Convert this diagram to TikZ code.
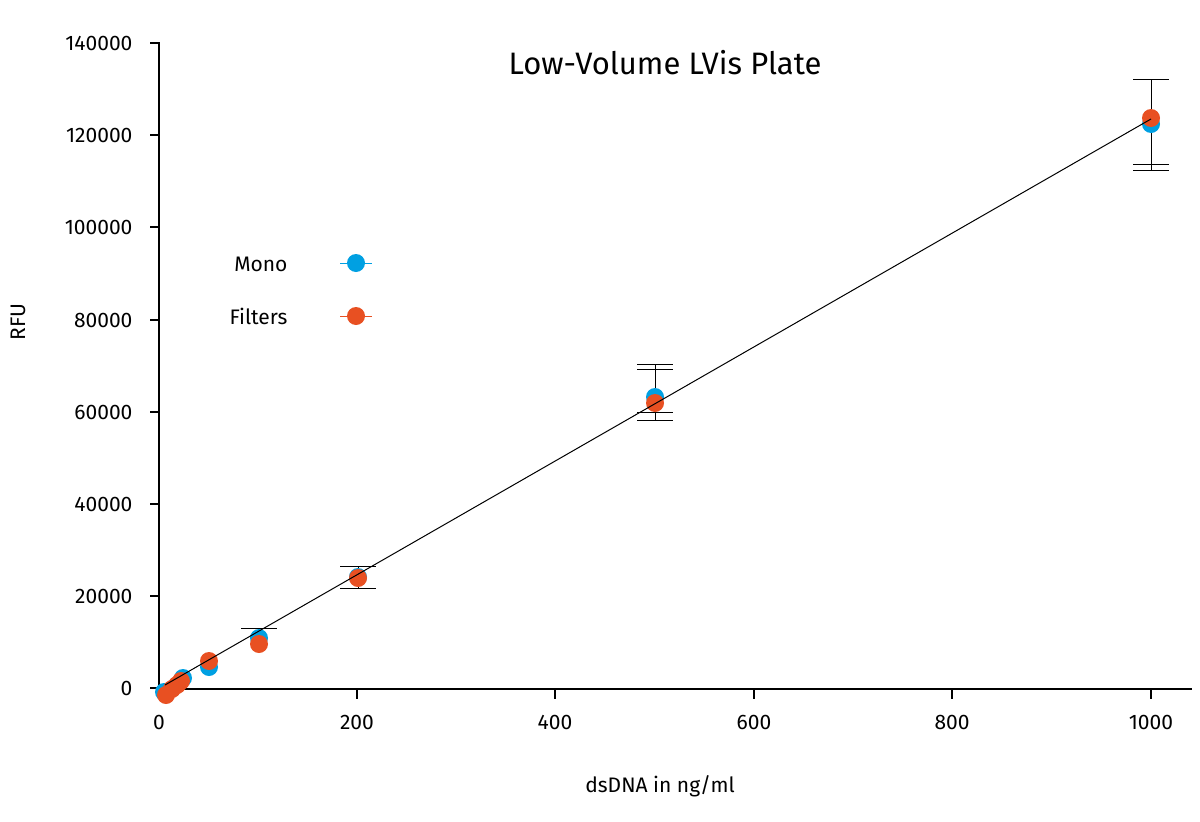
\documentclass[tikz,border=0pt]{standalone}
\usepackage{fontspec}
\setmainfont{Fira Sans}
\definecolor{mblue}{RGB}{0,160,226}
\definecolor{forange}{RGB}{232,80,34}
\begin{document}
\begin{tikzpicture}[x=1pt,y=-1pt,
  ax/.style={line width=1.6pt},
  bar/.style={line width=0.9pt},
  bdot/.style={circle,fill=mblue,inner sep=0pt,minimum size=18pt},
  odot/.style={circle,fill=forange,inner sep=0pt,minimum size=18pt},
  lbl/.style={font=\fontsize{21}{24}\selectfont}]
\useasboundingbox (0,0) rectangle (1200,822);
% axes
\draw[ax] (159,42) -- (159,689) -- (1192,689);
\foreach \v/\py in {0/688,20000/596,40000/504,60000/412,80000/320,100000/227,120000/135,140000/43}{
  \draw[ax] (150,\py) -- (159,\py);
  \node[lbl,anchor=east] (yl\v) at (136,\py) {\v};}
\foreach \v/\px in {0/159,200/357,400/555,600/754,800/952,1000/1151}{
  \draw[ax] (\px,689) -- (\px,699);
  \node[lbl,anchor=north] (xl\v) at (\px,712) {\v};}
\node[lbl] (xt) at (660,786) {dsDNA in ng/ml};
\node[lbl,rotate=90] (yt) at (18,322) {RFU};
\node[font=\fontsize{31}{36}\selectfont] (title) at (665,63) {Low-Volume LVis Plate};
% error bars
\draw[bar] (259,628) -- (259,642) (241,628) -- (277,628);
\draw[bar] (358,566) -- (358,588) (340,566) -- (376,566) (340,588) -- (376,588);
\draw[bar] (655,364) -- (655,420) (637,364) -- (673,364) (637,369) -- (673,369) (637,412) -- (673,412) (637,420) -- (673,420);
\draw[bar] (1151,79) -- (1151,170) (1133,79) -- (1169,79) (1133,164) -- (1169,164) (1133,170) -- (1169,170);
% points
\foreach \x/\y [count=\i] in {164/692,183/678,209/667,259/638,358/577,655/397,1151/124}
  \node[bdot] (b\i) at (\x,\y) {};
\foreach \x/\y [count=\i] in {166/695,172/689,177/685,181/681,209/661,259/644,358/578,655/403,1151/118}
  \node[odot] (o\i) at (\x,\y) {};
% fit line
\coordinate (l0) at (165,685);
\coordinate (l1) at (1151,119);
\draw[line width=1pt] (l0) -- (l1);
% legend
\node[lbl,anchor=east] (lm) at (291,264) {Mono};
\draw[mblue,line width=1pt] (340,263) -- (372,263);
\node[bdot] (lbd) at (356,263) {};
\node[lbl,anchor=east] (lf) at (291,316) {Filters};
\draw[forange,line width=1pt] (340,316) -- (372,316);
\node[odot] (lod) at (356,316) {};
\end{tikzpicture}
\end{document}
